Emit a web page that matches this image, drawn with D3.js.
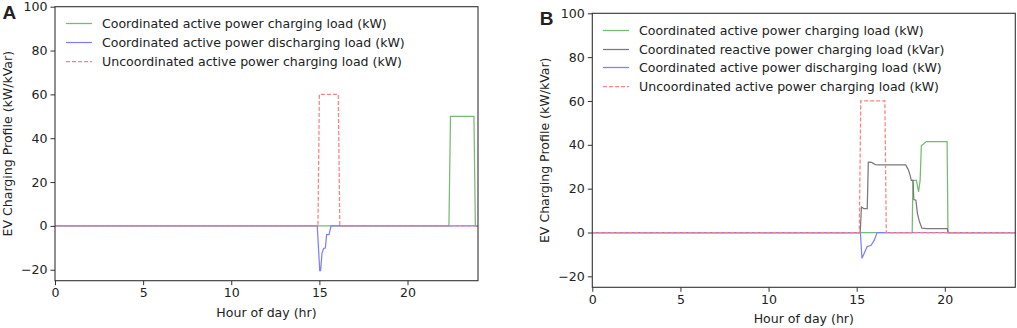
<!DOCTYPE html>
<html>
<head>
<meta charset="utf-8">
<script src="https://cdn.jsdelivr.net/npm/d3@7"></script>
<style>
  body { margin: 0; background: #fff; }
  svg text { font-family: "DejaVu Sans", sans-serif; fill: #222; }
</style>
</head>
<body>
<svg id="chart" width="1017" height="328"></svg>
<script>
// hour of day, value pairs
var greenA = [[0,0],[22.35,0],[22.44,50],[23.77,50],[23.85,0],[24,0]]
var blueA = [[0,0],[14.88,0],[15.02,-20.4],[15.07,-20.4],[15.15,-12.4],[15.24,-10.3],[15.34,-10.1],[15.41,-4],[15.55,-4],[15.66,0],[24,0]]
var redA = [[0,0],[14.92,0],[15.0,60],[16.07,60],[16.16,0],[24,0]]

var greenB = [[0,0],[18.15,0],[18.19,23.8],[18.39,23.8],[18.51,18.5],[18.6,23.8],[18.67,39.7],[18.81,40.5],[18.95,41.5],[20.13,41.5],[20.18,0],[24,0]]
var grayB = [[0,0],[15.2,0],[15.27,11.6],[15.4,10.9],[15.6,10.9],[15.66,32.1],[15.85,32],[16.06,31],[16.25,30.8],[17.78,30.8],[17.92,28.8],[18.02,26.5],[18.1,23.8],[18.2,23.8],[18.24,15],[18.36,14.7],[18.45,8.5],[18.56,5],[18.7,2],[19.0,1.8],[20.14,1.8],[20.19,0],[24,0]]
var blueB = [[0,0],[15.21,0],[15.3,-11.8],[15.43,-9.5],[15.59,-6.5],[15.82,-5.8],[16.0,-3.5],[16.16,0],[24,0]]
var redB = [[0,0],[15.15,0],[15.23,60],[16.6,60],[16.68,0],[24,0]]

var xTicks = [0, 5, 10, 15, 20]
var yTicks = [-20, 0, 20, 40, 60, 80, 100]

var labelGreen = 'Coordinated active power charging load (kW)'
var labelGray = 'Coordinated reactive power charging load (kVar)'
var labelBlue = 'Coordinated active power discharging load (kW)'
var labelRed = 'Uncoordinated active power charging load (kW)'

var colors = { green: '#74bb74', gray: '#7a7a7a', blue: '#7f7fff', red: '#ff8080' }
var fs = 12.55

var svg = d3.select('#chart')

function panel(tag, left, top, series) {
  var w = 423, h = 274
  var x = d3.scaleLinear().domain([0, 24]).range([left, left + w])
  var y = d3.scaleLinear().domain([-25, 100]).range([top + h, top])
  var g = svg.append('g')

  var clipId = 'clip' + tag
  g.append('clipPath').attr('id', clipId)
    .append('rect').attr('x', left).attr('y', top).attr('width', w).attr('height', h)

  var line = d3.line().x(d => x(d[0])).y(d => y(d[1]))
  var plot = g.append('g').attr('clip-path', 'url(#' + clipId + ')')
  series.forEach(s => {
    plot.append('path')
      .datum(s.data)
      .attr('d', line)
      .attr('fill', 'none')
      .attr('stroke', s.color)
      .attr('stroke-width', 1.25)
      .attr('stroke-dasharray', s.dash ? '4,2' : null)
  })

  // axes
  var xAxis = d3.axisBottom(x).tickValues(xTicks).tickSize(4.5).tickPadding(3)
  var yAxis = d3.axisLeft(y).tickValues(yTicks).tickSize(4.5).tickPadding(3)
    .tickFormat(d => d < 0 ? '\u2212' + Math.abs(d) : d)
  var gx = g.append('g').attr('transform', 'translate(0,' + (top + h) + ')').call(xAxis)
  var gy = g.append('g').attr('transform', 'translate(' + left + ',0)').call(yAxis)
  ;[gx, gy].forEach(a => {
    a.select('.domain').remove()
    a.selectAll('line').attr('stroke', '#333').attr('stroke-width', 1)
    a.selectAll('text').attr('font-size', fs).attr('fill', '#222')
      .style('font-family', '"DejaVu Sans", sans-serif')
  })

  g.append('rect').attr('x', left).attr('y', top).attr('width', w).attr('height', h)
    .attr('fill', 'none').attr('stroke', '#333').attr('stroke-width', 1.1)

  g.append('text').attr('x', left + w / 2).attr('y', top + h + 36)
    .attr('text-anchor', 'middle').attr('font-size', fs).text('Hour of day (hr)')
  g.append('text')
    .attr('transform', 'translate(' + (left - 43) + ',' + (top + h / 2) + ') rotate(-90)')
    .attr('text-anchor', 'middle').attr('font-size', fs).text('EV Charging Profile (kW/kVar)')

  // legend
  var leg = g.selectAll('.leg').data(series).enter().append('g').attr('class', 'leg')
    .attr('transform', (d, i) => 'translate(' + Math.round(left + 11) + ',' + (Math.round(top + 16.7 + i * 18.6) + 0.5) + ')')
  leg.append('line').attr('x1', 0).attr('x2', 26).attr('y1', 0).attr('y2', 0)
    .attr('stroke', d => d.color).attr('stroke-width', 1.25)
    .attr('stroke-dasharray', d => d.dash ? '4,2' : null)
  leg.append('text').attr('x', 36).attr('y', 0).attr('dy', '0.36em')
    .attr('font-size', fs).text(d => d.label)

  g.append('text').attr('x', left - 52.5).attr('y', top + 11.8)
    .attr('font-size', 19).attr('font-weight', 'bold')
    .style('font-family', '"Liberation Sans", Arial, sans-serif')
    .attr('fill', '#000').text(tag)
}

panel('A', 55, 6.7, [
  { data: greenA, color: colors.green, label: labelGreen },
  { data: blueA, color: colors.blue, label: labelBlue },
  { data: redA, color: colors.red, label: labelRed, dash: true }
])

panel('B', 592.3, 13.3, [
  { data: greenB, color: colors.green, label: labelGreen },
  { data: grayB, color: colors.gray, label: labelGray },
  { data: blueB, color: colors.blue, label: labelBlue },
  { data: redB, color: colors.red, label: labelRed, dash: true }
])
</script>
</body>
</html>
